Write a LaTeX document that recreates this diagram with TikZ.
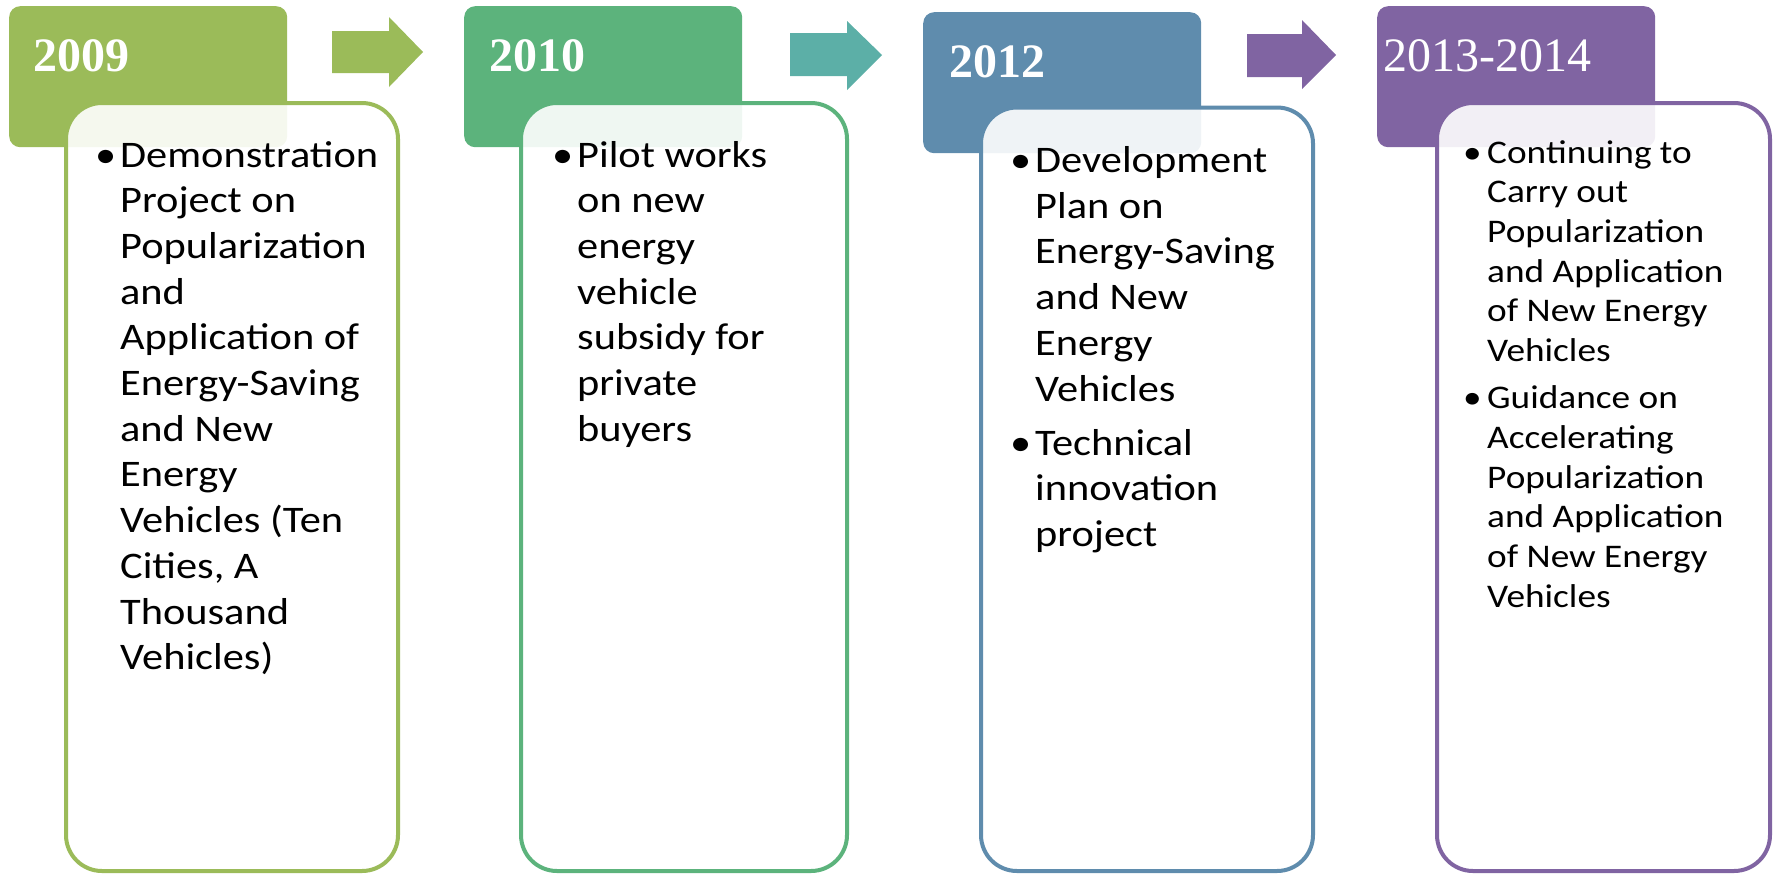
\documentclass[tikz,border=0pt]{standalone}
\usepackage{fontspec}
\setmainfont{Carlito}[FakeStretch=1.13]
\newfontfamily\bulletfont{Carlito}[FakeStretch=1.13]
\newfontfamily\yearfont{Liberation Serif}
\usepackage{array}
\definecolor{cOlive}{HTML}{9BBB59}
\definecolor{cGreen}{HTML}{5CB37C}
\definecolor{cTeal}{HTML}{5CAFA7}
\definecolor{cBlue}{HTML}{5F8CAD}
\definecolor{cPurple}{HTML}{8064A2}
\newcommand{\itemdot}{\hspace*{-5pt}{\bulletfont •}}

\begin{document}
\begin{tikzpicture}[x=1pt,y=-1pt,
  yearbox/.style={fill=#1, rounded corners=11pt, anchor=north west, inner sep=0pt,
                  minimum width=278pt, minimum height=141pt},
  card/.style={draw=#1, line width=4pt, fill=white, fill opacity=0.9,
               rounded corners=36pt, anchor=north west, inner sep=0pt},
  yeartext/.style={anchor=base west, inner sep=0pt, text=white,
                   font=\yearfont\fontsize{48}{58}\selectfont},
  items/.style={anchor=base west, inner sep=0pt, font=\fontsize{37.5}{45.7}\selectfont},
  smallitems/.style={anchor=base west, inner sep=0pt, font=\fontsize{33}{39.7}\selectfont},
]
\useasboundingbox (0,0) rectangle (1775,873);

% block arrows between the year tabs
\fill[cOlive]  (332,31) -- (389,31) -- (389,17) -- (423,52) -- (389,87) -- (389,73) -- (332,73) -- cycle;
\fill[cTeal]   (790,33) -- (847,33) -- (847,21) -- (882,55) -- (847,90) -- (847,76) -- (790,76) -- cycle;
\fill[cPurple] (1247,34) -- (1302,34) -- (1302,20) -- (1336,55) -- (1302,89) -- (1302,77) -- (1247,77) -- cycle;

% year tabs
\node[yearbox=cOlive]  (h1) at (9,6) {};
\node[yearbox=cGreen]  (h2) at (464,6) {};
\node[yearbox=cBlue]   (h3) at (923,12) {};
\node[yearbox=cPurple] (h4) at (1377,6) {};

\node[yeartext] (y1) at (33,71)   {\bfseries 2009};
\node[yeartext] (y2) at (489,71)  {\bfseries 2010};
\node[yeartext] (y3) at (949,77)  {\bfseries 2012};
\node[yeartext] (y4) at (1383,71) {2013-2014};

% content cards, laid over the tabs
\node[card=cOlive,  minimum width=332pt, minimum height=768pt]   (b1) at (64,101) {};
\node[card=cGreen,  minimum width=326pt, minimum height=768pt]   (b2) at (519,101) {};
\node[card=cBlue,   minimum width=332pt, minimum height=763.5pt] (b3) at (979,105.5) {};
\node[card=cPurple, minimum width=333pt, minimum height=768pt]   (b4) at (1435,101) {};

% card texts
\node[items] (t1) at (100,167) {\begin{tabular}[t]{@{}p{20pt}@{}l@{}}
\itemdot & Demonstration\\
  & Project on\\
  & Popularization\\
  & and\\
  & Application of\\
  & Energy-Saving\\
  & and New\\
  & Energy\\
  & Vehicles (Ten\\
  & Cities, A\\
  & Thousand\\
  & Vehicles)
\end{tabular}};

\node[items] (t2) at (557,167) {\begin{tabular}[t]{@{}p{20pt}@{}l@{}}
\itemdot & Pilot works\\
  & on new\\
  & energy\\
  & vehicle\\
  & subsidy for\\
  & private\\
  & buyers
\end{tabular}};

\node[items] (t3) at (1015,172.5) {\begin{tabular}[t]{@{}p{20pt}@{}l@{}}
\itemdot & Development\\
  & Plan on\\
  & Energy-Saving\\
  & and New\\
  & Energy\\
  & Vehicles\\[8.5pt]
\itemdot & Technical\\
  & innovation\\
  & project
\end{tabular}};

\node[smallitems] (t4) at (1468,163) {\begin{tabular}[t]{@{}p{19pt}@{}l@{}}
\itemdot & Continuing to\\
  & Carry out\\
  & Popularization\\
  & and Application\\
  & of New Energy\\
  & Vehicles\\[7.5pt]
\itemdot & Guidance on\\
  & Accelerating\\
  & Popularization\\
  & and Application\\
  & of New Energy\\
  & Vehicles
\end{tabular}};
\end{tikzpicture}
\end{document}
